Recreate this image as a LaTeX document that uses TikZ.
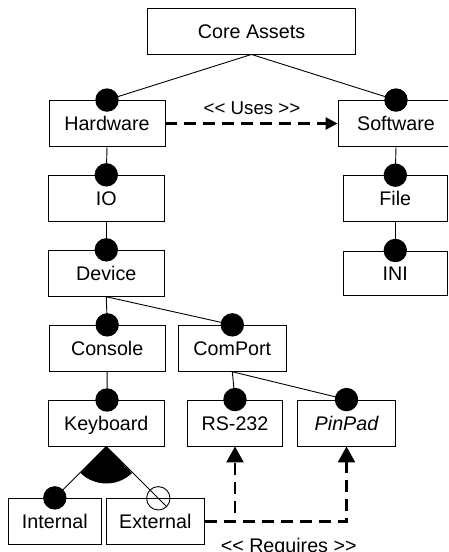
\documentclass[tikz,border=0pt]{standalone}
\usepackage{fontspec}
\setmainfont{Liberation Sans}[Ligatures=TeXOff]
\usetikzlibrary{arrows.meta,calc}

\begin{document}
\begin{tikzpicture}[x=1pt,y=1pt,
  feature/.style={draw, line width=0.9pt, minimum height=46pt, inner sep=0pt,
    text height=14.1pt, text depth=0pt, font=\fontsize{19.7}{23}\selectfont},
  mandatory/.style={circle, fill=black, draw=none, minimum size=23.4pt, inner sep=0pt},
  optional/.style={circle, fill=none, draw, line width=0.9pt, minimum size=23.4pt, inner sep=0pt},
  link/.style={line width=0.9pt},
  dependency/.style={line width=2.6pt, dash pattern=on 12pt off 7pt},
  label/.style={inner sep=0pt, text height=14.1pt, text depth=0pt}
]
\useasboundingbox (0,0) rectangle (448,-552);
\clip (0,0) rectangle (448,-552);

% feature boxes
\node[feature, minimum width=208pt] (core) at (251.5,-31) {Core Assets};
\node[feature, minimum width=116pt] (hw)   at (107,-123.5) {Hardware};
\node[feature, minimum width=116pt] (sw)   at (396,-123.5) {Software};
\node[feature, minimum width=116pt] (io)   at (106.3,-198.3) {IO};
\node[feature, minimum width=103.3pt, minimum height=45.3pt] (file) at (395.3,-198.3) {File};
\node[feature, minimum width=116pt] (dev)  at (106.3,-273.3) {Device};
\node[feature, minimum width=103.3pt, minimum height=44.7pt] (ini) at (395.3,-273.3) {INI};
\node[feature, minimum width=115.7pt] (con) at (107.2,-348.3) {Console};
\node[feature, minimum width=107.3pt] (com) at (232.3,-348.3) {ComPort};
\node[feature, minimum width=116pt] (kb)   at (106.3,-423) {Keyboard};
\node[feature, minimum width=95.3pt] (rs)  at (235,-423) {RS-232};
\node[feature, minimum width=98.3pt] (pin) at (346.5,-423) {\itshape PinPad};
\node[feature, minimum width=93pt, minimum height=45.7pt] (int) at (54.8,-521.2) {Internal};
\node[feature, minimum width=98pt, minimum height=45.7pt] (ext) at (155.3,-521.2) {External};

% attachment points of the feature markers
\coordinate (hwm)   at (hw.north);
\coordinate (swm)   at (sw.north);
\coordinate (iom)   at (io.north);
\coordinate (filem) at (file.north);
\coordinate (devm)  at (dev.north);
\coordinate (inim)  at (ini.north);
\coordinate (conm)  at (con.north);
\coordinate (comm)  at (com.north);
\coordinate (kbm)   at (107,-400);
\coordinate (rsm)   at (rs.north);
\coordinate (pinm)  at (pin.north);
\coordinate (intm)  at (int.north);
\coordinate (extm)  at (158.3,-498.3);
\coordinate (extend) at ($(kb.south)!1.16!(extm)$);

% decomposition links
\draw[link] (core.south) -- (hwm);
\draw[link] (core.south) -- (swm);
\draw[link] (hw.south) -- (iom);
\draw[link] (sw.south) -- (filem);
\draw[link] (io.south) -- (devm);
\draw[link] (file.south) -- (inim);
\draw[link] (dev.south) -- (conm);
\draw[link] (dev.south) -- (comm);
\draw[link] (con.south) -- (kbm);
\draw[link] (com.south) -- (rsm);
\draw[link] (com.south) -- (pinm);
\draw[link] (kb.south) -- (intm);
\draw[link] (kb.south) -- (extend);

% alternative group sector
\fill (kb.south) -- ++(-134:37pt) arc[start angle=-134, end angle=-46, radius=37pt] -- cycle;

% feature markers
\foreach \m in {hwm,swm,iom,filem,devm,inim,conm,comm,kbm,rsm,pinm,intm}
  \node[mandatory] at (\m) {};
\node[optional] (extopt) at (extm) {};

% dependencies
\draw[dependency, -{Triangle[length=12pt,width=12pt]}] (hw.east) -- (sw.west);
\node[label, font=\fontsize{18.7}{22}\selectfont] (uses) at (252,-107) {<\kern0pt< Uses >\kern0pt>};

\draw[dependency, -{Triangle[length=16pt,width=17pt]}] (ext.east) -| (rs.south);
\draw[dependency, -{Triangle[length=16pt,width=17pt]}] (ext.east) -| (pin.south);
\node[label, font=\fontsize{19.7}{23}\selectfont] (req) at (288.7,-545) {<\kern0pt< Requires >\kern0pt>};
\end{tikzpicture}
\end{document}
